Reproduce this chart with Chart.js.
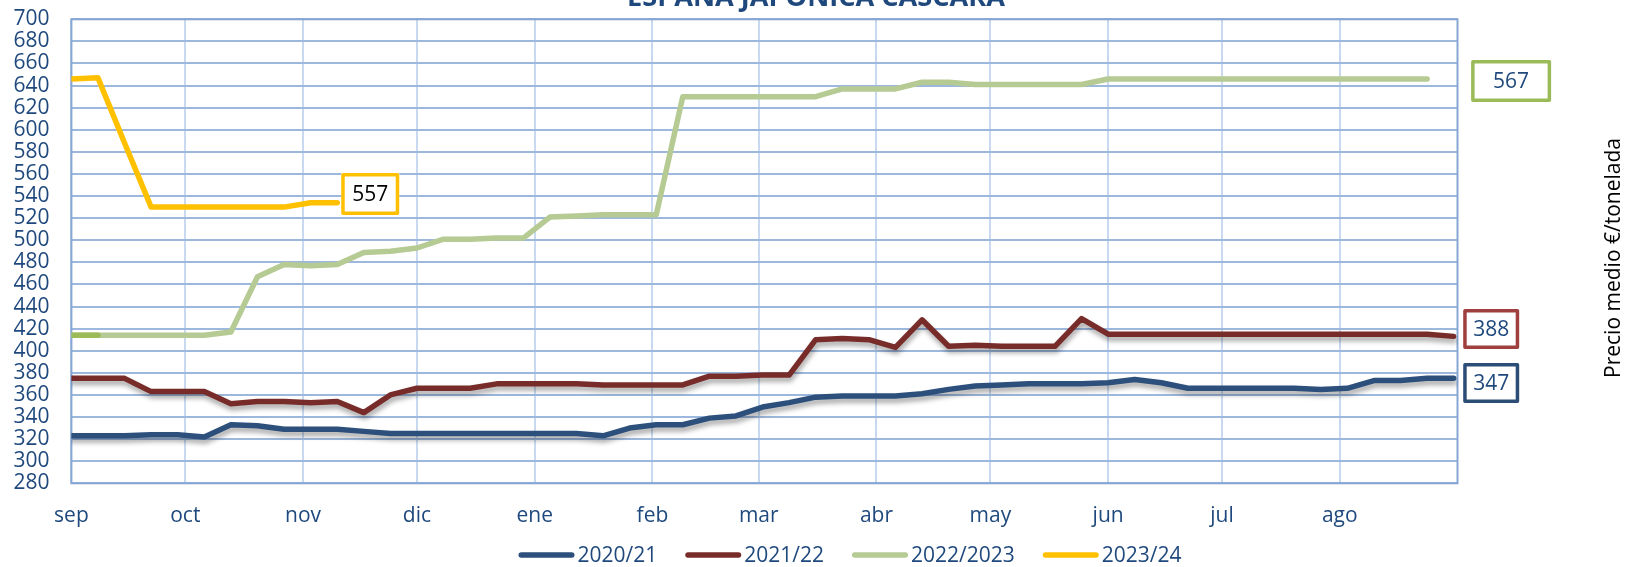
<!DOCTYPE html>
<html><head><meta charset="utf-8">
<script src="https://cdn.jsdelivr.net/npm/chart.js@4.4.1/dist/chart.umd.min.js"></script>
<style>html,body{margin:0;padding:0;background:#fff;overflow:hidden}#wrap{width:1628px;height:567px}</style>
</head><body><div id="wrap"><canvas id="c" width="1628" height="567"></canvas></div>
<script>
const titleText = 'ESPAÑA JAPÓNICA CÁSCARA';
const yAxisTitle = 'Precio medio €/tonelada';
const monthLabels = ['sep','oct','nov','dic','ene','feb','mar','abr','may','jun','jul','ago'];
const monthStartDays = [0,30,61,91,122,153,181,212,242,273,303,334];
const seasonDays = 365;
const yTickValues = [280,300,320,340,360,380,400,420,440,460,480,500,520,540,560,580,600,620,640,660,680,700];
const weekDays = [0,7,14,21,28,35,42,49,56,63,70,77,84,91,98,105,112,119,126,133,140,147,154,161,168,175,182,189,196,203,210,217,224,231,238,245,252,259,266,273,280,287,294,301,308,315,322,329,336,343,350,357,364];
const seriesLabels = ['2020/21','2021/22','2022/2023','2023/24'];
const values2020_21 = [323,323,323,324,324,322,333,332,329,329,329,327,325,325,325,325,325,325,325,325,323,330,333,333,339,341,349,353,358,359,359,359,361,365,368,369,370,370,370,371,374,371,366,366,366,366,366,365,366,373,373,375,375];
const values2021_22 = [375,375,375,363,363,363,352,354,354,353,354,344,360,366,366,366,370,370,370,370,369,369,369,369,377,377,378,378,410,411,410,403,428,404,405,404,404,404,429,415,415,415,415,415,415,415,415,415,415,415,415,415,413];
const values2022_2023 = [414,414,414,414,414,414,417,467,478,477,478,489,490,493,501,501,502,502,521,522,523,523,523,630,630,630,630,630,630,637,637,637,643,643,641,641,641,641,641,646,646,646,646,646,646,646,646,646,646,646,646,646];
const values2023_24 = [646,647,588,530,530,530,530,530,530,534,534];
const values2022_2023Start = [414,414];
const endLabels = ['347','388','567','557'];

const FONT = '"Open Sans", "Noto Sans", sans-serif';
const colors = ['#2D4F7C','#782C2A','#B6CA93','#FFC000'];
const boxBorders = ['#2C4D76','#A0403E','#9BBB59','#FFC000'];
const boxText = ['#1F497D','#1F497D','#1F497D','#000000'];
// per label: dx from last point, dy of box centre, width, height
const boxGeom = [[9.5,4.6,56,40],[9.5,-7.4,56,40],[44,2,80,42],[4,-8.7,58,42]];
const AREA = {left:71.4, top:19.3, right:1457.5, bottom:483.3};
const LINE_W = 5.5;

function pts(vals){ return vals.map((v,i)=>({x:weekDays[i], y:v})); }

const lineShadow = {
  id:'lineShadow',
  beforeDatasetDraw(chart,args){
    const ds = chart.data.datasets[args.index];
    if(ds.shadow){ const c=chart.ctx; c.save(); c.shadowColor='rgba(0,0,0,0.35)'; c.shadowBlur=5; c.shadowOffsetX=1; c.shadowOffsetY=4; }
  },
  afterDatasetDraw(chart,args){
    const ds = chart.data.datasets[args.index];
    if(ds.shadow){ chart.ctx.restore(); }
  }
};

const frame = {
  id:'frame',
  beforeDatasetsDraw(chart){
    const a=chart.chartArea, c=chart.ctx;
    c.save(); c.strokeStyle='#86A6D4'; c.lineWidth=2;
    c.strokeRect(a.left,a.top,a.right-a.left,a.bottom-a.top);
    c.restore();
  }
};

const extras = {
  id:'extras',
  afterDraw(chart){
    const c=chart.ctx;
    c.save();
    c.font = 'bold 27px '+FONT;
    let w = c.measureText(titleText).width;
    const fs = 27*378/w;
    c.font = 'bold '+fs.toFixed(2)+'px '+FONT;
    c.fillStyle='#1F497D'; c.textAlign='center'; c.textBaseline='alphabetic';
    c.fillText(titleText, 816, 6);
    c.save();
    c.translate(1614, 258); c.rotate(-Math.PI/2);
    c.font = '21px '+FONT; c.fillStyle='#000'; c.textAlign='center'; c.textBaseline='middle';
    c.fillText(yAxisTitle, 0, 0);
    c.restore();
    for(let i=0;i<endLabels.length;i++){
      const meta = chart.getDatasetMeta(i);
      const p = meta.data[meta.data.length-1];
      const [dx,dy,bw,bh] = boxGeom[i];
      const x0 = p.x+dx, cy = p.y+dy, y0 = cy-bh/2;
      c.fillStyle='#fff';
      c.fillRect(x0,y0,bw,bh);
      c.strokeStyle=boxBorders[i]; c.lineWidth=3.5; c.lineJoin='round';
      c.strokeRect(x0+1.75,y0+1.75,bw-3.5,bh-3.5);
      c.font='21px '+FONT; c.fillStyle=boxText[i]; c.textAlign='center'; c.textBaseline='middle';
      c.fillText(endLabels[i], x0+bw/2, cy+1);
    }
    c.font='21px '+FONT;
    const lineW=56, gapT=3, gapI=28;
    const items = seriesLabels.map((l,i)=>({l, col:colors[i], tw:c.measureText(l).width}));
    let total = items.reduce((s,it)=>s+lineW+gapT+it.tw,0)+gapI*(items.length-1);
    let x = 850-total/2; const ly=555;
    items.forEach(it=>{
      c.strokeStyle=it.col; c.lineWidth=LINE_W; c.lineCap='round';
      c.beginPath(); c.moveTo(x+2.75,ly); c.lineTo(x+lineW-2.75,ly); c.stroke();
      c.fillStyle='#1F497D'; c.textAlign='left'; c.textBaseline='middle';
      c.fillText(it.l, x+lineW+gapT, ly+1);
      x += lineW+gapT+it.tw+gapI;
    });
    c.restore();
  }
};

function makeChart(pad){
  const datasets = [
    {label:seriesLabels[0], data:pts(values2020_21), borderColor:colors[0], shadow:true, order:1},
    {label:seriesLabels[1], data:pts(values2021_22), borderColor:colors[1], shadow:true, order:1},
    {label:seriesLabels[2], data:pts(values2022_2023), borderColor:colors[2], order:1},
    {label:seriesLabels[3], data:pts(values2023_24), borderColor:colors[3], order:1},
    {label:'', data:pts(values2022_2023Start), borderColor:'#9BBB59', order:0}
  ];
  datasets.forEach(d=>{ d.borderWidth=LINE_W; d.pointRadius=0; d.tension=0; d.fill=false; d.borderJoinStyle='round'; d.borderCapStyle='round'; });
  return new Chart(document.getElementById('c'), {
    type:'line',
    data:{datasets},
    options:{
      responsive:false, animation:false, devicePixelRatio:1,
      layout:{padding:Object.assign({},pad)},
      plugins:{legend:{display:false},title:{display:false},tooltip:{enabled:false}},
      scales:{
        x:{type:'linear', min:0, max:seasonDays,
          afterBuildTicks:s=>{ s.ticks = monthStartDays.map(v=>({value:v})); },
          afterFit:s=>{ s.height=50; },
          grid:{color:'#C9DAF0', lineWidth:2, drawTicks:false},
          border:{display:false},
          ticks:{autoSkip:false, maxRotation:0, minRotation:0, padding:20, color:'#1F497D', font:{family:FONT,size:21}, callback:(v,i)=>monthLabels[i]}
        },
        y:{type:'linear', min:280, max:700,
          afterBuildTicks:s=>{ s.ticks = yTickValues.map(v=>({value:v})); },
          afterFit:s=>{ s.width=71.4; },
          grid:{color:'#9DB8DD', lineWidth:2, drawTicks:true, tickLength:22, tickColor:'rgba(0,0,0,0)'},
          border:{display:false},
          ticks:{autoSkip:false, padding:0, color:'#1F497D', font:{family:FONT,size:21}}
        }
      }
    },
    plugins:[lineShadow, frame, extras]
  });
}

function build(){
  const pad = {left:0,right:1628-AREA.right,top:AREA.top,bottom:567-AREA.bottom-50};
  let chart = makeChart(pad);
  for(let k=0;k<4;k++){
    const a = chart.chartArea;
    const dT = a.top-AREA.top, dB = AREA.bottom-a.bottom, dL = a.left-AREA.left, dR = AREA.right-a.right;
    if(Math.abs(dT)<0.05 && Math.abs(dB)<0.05 && Math.abs(dL)<0.05 && Math.abs(dR)<0.05) break;
    pad.top -= dT; pad.bottom -= dB; pad.left -= dL; pad.right -= dR;
    chart.destroy();
    chart = makeChart(pad);
  }
}
const loads = [document.fonts.load('21px "Open Sans"'), document.fonts.load('bold 27px "Open Sans"')];
Promise.all(loads).then(build, build);
</script>
</body></html>
